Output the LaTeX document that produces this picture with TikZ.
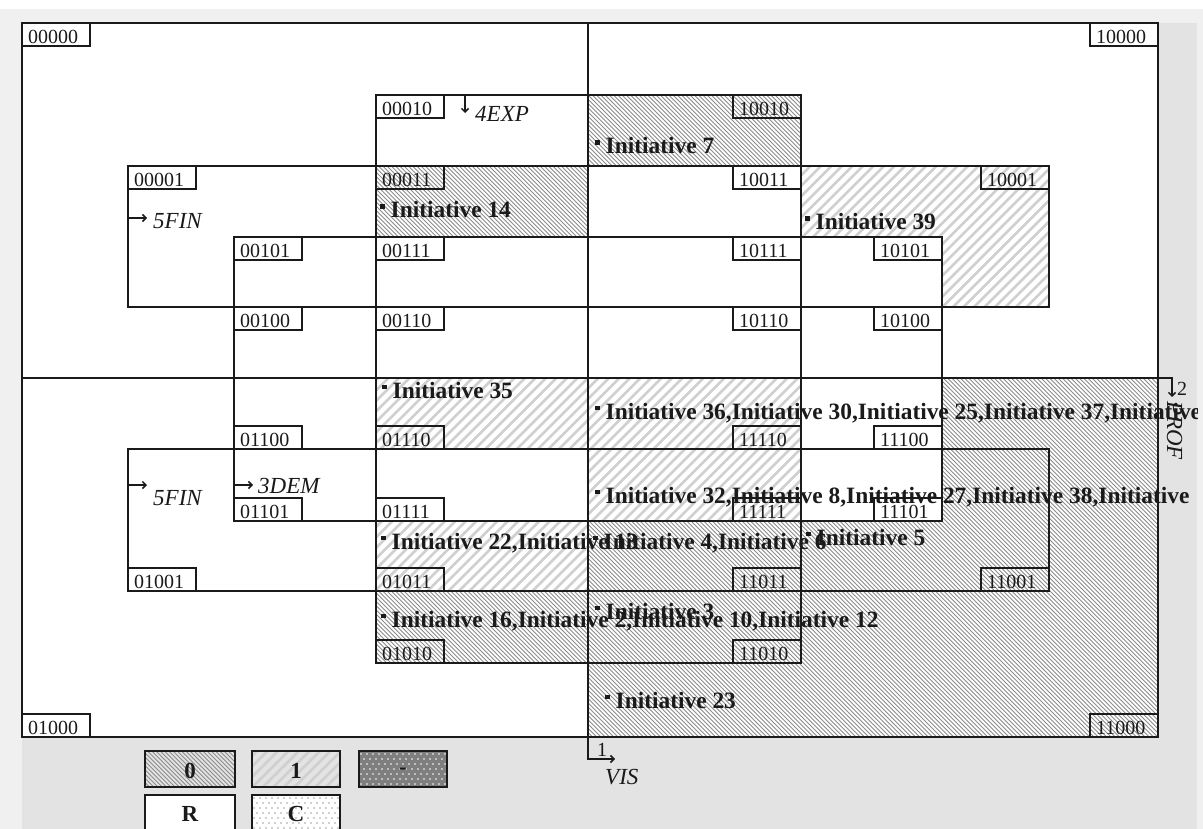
\documentclass[tikz,border=0pt]{standalone}
\usepackage{fontspec}
\setmainfont{Liberation Serif}
\usetikzlibrary{arrows.meta}
\definecolor{panel}{HTML}{E3E3E3}
\definecolor{outerbg}{HTML}{F0F0F0}
\definecolor{zcol}{HTML}{8C8C8C}
\definecolor{ocol}{HTML}{D0D0D0}
\definecolor{ink}{HTML}{1A1A1A}
\definecolor{darkfill}{HTML}{7F7F7F}
\definecolor{dotgray}{HTML}{A0A0A0}
\tikzset{
  zline/.style={draw=zcol,line width=1pt},
  oline/.style={draw=ocol,line width=2.6pt},
  edge/.style={draw=ink,line width=1.5pt},
  lbox/.style={draw=ink,line width=1.4pt},
  ltext/.style={anchor=base west,inner sep=0pt,text=ink,font=\fontsize{20}{20}\selectfont},
  itext/.style={anchor=base west,inner sep=0pt,text=ink,font=\fontsize{23.4}{23.4}\selectfont\bfseries},
  ilab/.style={anchor=base west,inner sep=0pt,text=ink,font=\fontsize{23}{23}\selectfont\itshape},
  nlab/.style={anchor=base west,inner sep=0pt,text=ink,font=\fontsize{20}{20}\selectfont},
  legtext/.style={inner sep=0pt,text=ink,font=\fontsize{23}{23}\selectfont\bfseries},
  arr/.style={edge,-{Straight Barb[length=3.5pt,width=7pt]}},
}
\newcommand\hatchZ[5]{%
  \begin{scope}
  \clip #1;
  \pgfmathsetmacro\cA{floor((#2-#5)/4.25)*4.25}
  \pgfmathsetmacro\cB{\cA+4.25}
  \pgfmathsetmacro\cC{#4-#3+4.25}
  \foreach \c in {\cA,\cB,...,\cC}{\draw[zline] (\c+#3-1,#3-1) -- (\c+#5+1,#5+1);}
  \end{scope}}
\newcommand\hatchO[5]{%
  \begin{scope}
  \clip #1;
  \pgfmathsetmacro\cA{floor((#2+#3)/10.5)*10.5}
  \pgfmathsetmacro\cB{\cA+10.5}
  \pgfmathsetmacro\cC{#4+#5+10.5}
  \foreach \c in {\cA,\cB,...,\cC}{\draw[oline] (\c-#3+3,#3-3) -- (\c-#5-3,#5+3);}
  \end{scope}}
\newcommand\dotbox[5]{%
  \begin{scope}
  \clip (#1,#2) rectangle (#3,#4);
  \foreach \i in {0,...,16}{\foreach \j in {0,...,8}{%
    \fill[#5] ({#1+2+\i*6+mod(\j,2)*3},{#2+3+\j*5}) circle (0.8);}}
  \end{scope}}
\newcommand\lab[4]{%
  \draw[lbox] (#2,#3) rectangle ++(68,23);
  \node[ltext] (#1) at (#2+6,#3+20.8) {#4};}
\newcommand\bul{\raisebox{9pt}{\rule{4.5pt}{4.5pt}}\hspace{6pt}}
\begin{document}
\begin{tikzpicture}[x=1pt,y=-1pt]
\useasboundingbox (0,0) rectangle (1203,829);
\clip (0,0) rectangle (1203,829);
% backgrounds
\fill[outerbg] (0,0) rectangle (1203,829);
\fill[white] (0,0) rectangle (1203,9);
\fill[panel] (22,23) rectangle (1197,829);
\fill[white] (22,23) rectangle (1158,737);
% pattern 0 regions
\hatchZ{(588,95) rectangle (801,166)}{588}{95}{801}{166}
\hatchZ{(376,166) rectangle (588,237)}{376}{166}{588}{237}
\hatchZ{(588,378) rectangle (1158,737)}{588}{378}{1158}{737}
\hatchZ{(376,591) rectangle (588,663)}{376}{591}{588}{663}
\fill[white] (801,378) rectangle (942,521);
\fill[white] (588,378) rectangle (801,521);
% pattern 1 regions
\hatchO{(801,166) -- (1049,166) -- (1049,307) -- (942,307) -- (942,237) -- (801,237) -- cycle}{801}{166}{1049}{307}
\hatchO{(376,378) rectangle (588,449)}{376}{378}{588}{449}
\hatchO{(588,378) rectangle (801,521)}{588}{378}{801}{521}
\hatchO{(376,521) rectangle (588,591)}{376}{521}{588}{591}
% initiative texts
\begin{scope}
\clip (22,23) rectangle (1197,829);
\node[itext] (t7) at (595,154) {\bul Initiative 7};
\node[itext] (t14) at (380,218) {\bul Initiative 14};
\node[itext] (t39) at (805,230) {\bul Initiative 39};
\node[itext] (t35) at (382,398) {\bul Initiative 35};
\node[itext] (t36) at (595,419) {\bul Initiative 36,Initiative 30,Initiative 25,Initiative 37,Initiative};
\node[itext] (t32) at (595,503) {\bul Initiative 32,Initiative 8,Initiative 27,Initiative 38,Initiative};
\node[itext] (t22) at (381,549) {\bul Initiative 22,Initiative 13};
\node[itext] (t4) at (593,549) {\bul Initiative 4,Initiative 6};
\node[itext] (t5) at (806,545) {\bul Initiative 5};
\node[itext] (t16) at (381,627) {\bul Initiative 16,Initiative 2,Initiative 10,Initiative 12};
\node[itext] (t3) at (595,619) {\bul Initiative 3};
\node[itext] (t23) at (605,708) {\bul Initiative 23};
\end{scope}
% region outlines
\draw[edge] (22,23) rectangle (1158,737);
\draw[edge] (376,95) rectangle (801,663);
\draw[edge] (234,237) rectangle (942,521);
\draw[edge] (128,166) rectangle (1049,307);
\draw[edge] (128,449) rectangle (1049,591);
\coordinate (visA) at (588,23);
\coordinate (visB) at (588,759);
\coordinate (visC) at (615,759);
\draw[arr] (visA) -- (visB) -- (visC);
\coordinate (profA) at (22,378);
\coordinate (profB) at (1172,378);
\coordinate (profC) at (1172,397);
\draw[arr] (profA) -- (profB) -- (profC);
\coordinate (expA) at (465,95);
\coordinate (expB) at (465,113);
\draw[arr] (expA) -- (expB);
\coordinate (finA) at (128,218);
\coordinate (finB) at (147,218);
\draw[arr] (finA) -- (finB);
\coordinate (finC) at (128,485);
\coordinate (finD) at (147,485);
\draw[arr] (finC) -- (finD);
\coordinate (demA) at (234,485);
\coordinate (demB) at (253,485);
\draw[arr] (demA) -- (demB);
% cell labels
\lab{c00000}{22}{23}{00000}
\lab{c10000}{1090}{23}{10000}
\lab{c00010}{376}{95}{00010}
\lab{c10010}{733}{95}{10010}
\lab{c00011}{376}{166}{00011}
\lab{c10011}{733}{166}{10011}
\lab{c00001}{128}{166}{00001}
\lab{c10001}{981}{166}{10001}
\lab{c00101}{234}{237}{00101}
\lab{c00111}{376}{237}{00111}
\lab{c10111}{733}{237}{10111}
\lab{c10101}{874}{237}{10101}
\lab{c00100}{234}{307}{00100}
\lab{c00110}{376}{307}{00110}
\lab{c10110}{733}{307}{10110}
\lab{c10100}{874}{307}{10100}
\lab{c01100}{234}{426}{01100}
\lab{c01110}{376}{426}{01110}
\lab{c11110}{733}{426}{11110}
\lab{c11100}{874}{426}{11100}
\lab{c01101}{234}{498}{01101}
\lab{c01111}{376}{498}{01111}
\lab{c11111}{733}{498}{11111}
\lab{c11101}{874}{498}{11101}
\lab{c01001}{128}{568}{01001}
\lab{c01011}{376}{568}{01011}
\lab{c11011}{733}{568}{11011}
\lab{c11001}{981}{568}{11001}
\lab{c01010}{376}{640}{01010}
\lab{c11010}{733}{640}{11010}
\lab{c01000}{22}{714}{01000}
\lab{c11000}{1090}{714}{11000}
% axis labels
\node[ilab] (lexp) at (475,122) {4EXP};
\node[ilab] (lfin1) at (153,229) {5FIN};
\node[ilab] (lfin2) at (153,505) {5FIN};
\node[ilab] (ldem) at (258,493) {3DEM};
\node[ilab] (lvis) at (605,784) {VIS};
\node[nlab] (lone) at (597,756) {1};
\node[nlab] (ltwo) at (1177,395) {2};
\node[ilab,rotate=-90] (lprof) at (1167,401) {PROF};
% legend
\hatchZ{(145,751) rectangle (235,787)}{145}{751}{235}{787}
\hatchO{(252,751) rectangle (340,787)}{252}{751}{340}{787}
\fill[darkfill] (359,751) rectangle (447,787);
\dotbox{359}{751}{447}{787}{white}
\fill[white] (145,795) rectangle (235,835);
\fill[white] (252,795) rectangle (340,835);
\dotbox{252}{795}{340}{835}{dotgray}
\draw[edge] (145,751) rectangle (235,787);
\draw[edge] (252,751) rectangle (340,787);
\draw[edge] (359,751) rectangle (447,787);
\draw[edge] (145,795) rectangle (235,835);
\draw[edge] (252,795) rectangle (340,835);
\node[legtext] (k0) at (190,771) {0};
\node[legtext] (k1) at (296,771) {1};
\node[legtext] (kd) at (403,771) {-};
\node[legtext] (kR) at (190,814) {R};
\node[legtext] (kC) at (296,814) {C};
\end{tikzpicture}
\end{document}
